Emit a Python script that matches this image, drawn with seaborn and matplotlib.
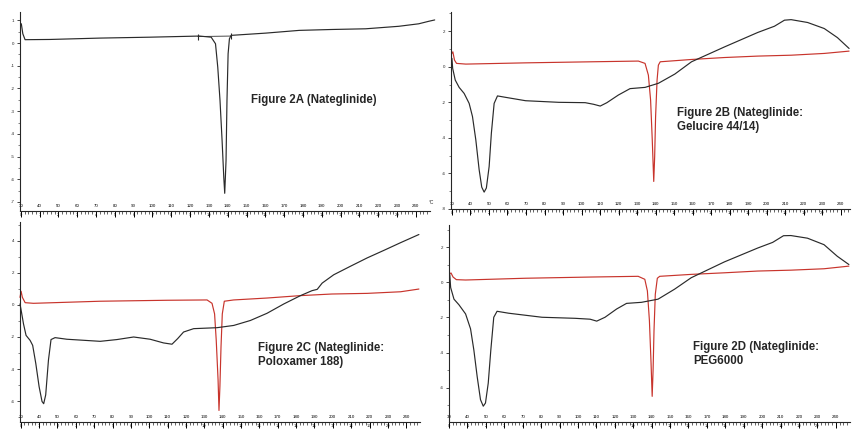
import numpy as np
import pandas as pd
import matplotlib
matplotlib.use("Agg")
import matplotlib.pyplot as plt
from matplotlib.ticker import MultipleLocator
import seaborn as sns

# ---------------- data (temperature °C, heat flow) ----------------
a_temp = [30, 30.3, 31.1, 32.3, 45.5, 72, 98.5, 125, 131.2, 133.5, 134.7, 135.9, 137, 137.9,
          138.4, 139.1, 139.6, 140.2, 140.9, 141.8, 160.3, 178, 195.6, 213.3, 230.9, 241.5, 246.8, 250]
a_flow = [0.78, 0.85, 0.41, 0.15, 0.16, 0.22, 0.26, 0.31, 0.26, -0.03, -1.06, -2.53, -4.29, -5.91,
          -6.62, -5.18, -2.53, -0.47, 0.19, 0.34, 0.44, 0.56, 0.60, 0.63, 0.74, 0.85, 0.96, 1.02]
a_base_temp = [124.1, 141.8]
a_base_flow = [0.29, 0.31]

b_red_temp = [30, 30.5, 31.4, 32.5, 37.5, 69.8, 105.6, 130.7, 134.3, 136.1, 137.3, 138.2, 139,
              139.5, 140, 140.8, 141.5, 142.5, 159.4, 177.3, 195.2, 213.2, 231.1, 244.5]
b_red_flow = [0.75, 0.84, 0.37, 0.19, 0.15, 0.22, 0.28, 0.32, 0.19, -0.47, -1.87, -4.11, -6.45,
              -5.05, -2.8, -0.75, 0.09, 0.28, 0.41, 0.52, 0.60, 0.65, 0.75, 0.88]
b_blk_temp = [30, 30.4, 31.8, 33.9, 36.6, 39.3, 41.1, 42.9, 44.7, 46.1, 47.4, 48.6, 50.1, 51.3,
              52.8, 54.6, 59, 69.8, 87.7, 102, 106.5, 110.1, 113.7, 119.9, 126.2, 134.3, 141.5,
              150.4, 159.4, 177.3, 195.2, 204.2, 209.6, 213.2, 222.1, 231.1, 238.2, 244.5]
b_blk_flow = [0.47, -0.09, -0.75, -1.16, -1.5, -2.06, -2.8, -4.11, -5.79, -6.77, -7.05, -6.82,
              -5.61, -3.74, -2.06, -1.64, -1.72, -1.91, -2.0, -2.02, -2.11, -2.21, -2.02, -1.59,
              -1.23, -1.16, -0.93, -0.41, 0.28, 1.12, 1.93, 2.28, 2.62, 2.65, 2.49, 2.15, 1.64, 1.03]

c_red_temp = [29.6, 30.2, 30.9, 32.4, 36.9, 73.3, 109.6, 131.5, 134.2, 135.6, 136.5, 137.5, 138,
              138.5, 139.1, 139.8, 140.9, 146, 164.2, 182.4, 199.5, 218.7, 236.9, 246.9]
c_red_flow = [0.47, 0.85, 0.47, 0.14, 0.10, 0.23, 0.29, 0.31, 0.10, -0.56, -2.21, -4.68, -6.58,
              -5.09, -2.62, -0.56, 0.23, 0.31, 0.43, 0.58, 0.68, 0.72, 0.82, 0.99]
c_blk_temp = [29.6, 30.4, 31.5, 32.9, 35.1, 36.5, 38.2, 40, 41.6, 42.5, 43.6, 45.1, 46.5, 48.7,
              55.1, 73.3, 82.4, 91.5, 100.5, 107.8, 112.4, 115.5, 118.7, 124.2, 136.9, 146,
              155.1, 164.2, 173.3, 182.4, 188.7, 191.5, 194.2, 200.5, 209.6, 218.7, 227.8, 236.9, 246.9]
c_blk_flow = [0.06, -0.45, -1.18, -1.9, -2.21, -2.52, -3.65, -5.09, -6.02, -6.16, -5.61, -3.44,
              -2.16, -2.04, -2.14, -2.27, -2.16, -2.0, -2.14, -2.37, -2.45, -2.1, -1.69, -1.48,
              -1.42, -1.28, -0.97, -0.52, 0.06, 0.58, 0.89, 0.97, 1.36, 1.88, 2.41, 2.93, 3.40, 3.88, 4.39]

d_red_temp = [30.4, 31.1, 32.2, 34, 39, 71.4, 107.5, 132.7, 136.3, 137.7, 138.8, 139.7, 140.3,
              140.8, 141.3, 142, 143.1, 144.4, 161.5, 179.5, 197.6, 215.6, 233.6, 247.1]
d_red_flow = [0.49, 0.53, 0.30, 0.15, 0.13, 0.23, 0.30, 0.34, 0.17, -0.49, -2.18, -4.62, -6.49,
              -4.99, -2.74, -0.68, 0.23, 0.34, 0.45, 0.54, 0.64, 0.69, 0.77, 0.92]
d_blk_temp = [30.4, 30.9, 32.7, 35.4, 39, 41.7, 43.5, 45.3, 47.1, 48.6, 49.8, 51.3, 52.7, 54.3,
              56.1, 62.4, 80.5, 98.5, 106.6, 110.2, 114.7, 121, 126.4, 134.5, 143.5, 152.5,
              161.5, 179.5, 197.6, 205.7, 211.6, 215.6, 224.6, 233.6, 240.8, 247.1]
d_blk_flow = [0.45, -0.3, -0.96, -1.28, -1.8, -2.65, -3.86, -5.37, -6.68, -7.05, -6.87, -5.74,
              -3.86, -1.99, -1.65, -1.76, -1.99, -2.05, -2.1, -2.21, -1.99, -1.52, -1.2, -1.14,
              -0.96, -0.39, 0.26, 1.16, 1.95, 2.27, 2.65, 2.66, 2.51, 2.14, 1.48, 1.01]

titles = ["Figure 2A (Nateglinide)",
          "Figure 2B (Nateglinide:\nGelucire 44/14)",
          "Figure 2C (Nateglinide:\nPoloxamer 188)",
          "Figure 2D (Nateglinide:\nPEG6000"]

# ---------------- figure ----------------
sns.set_style("ticks")
plt.rcParams['font.family'] = ['Liberation Sans', 'DejaVu Sans']

W, H = 852, 430
fig = plt.figure(figsize=(W / 100, H / 100), dpi=100)
fig.patch.set_facecolor("white")

def box(l, r, t, b):
    return [l / W, 1 - b / H, (r - l) / W, (b - t) / H]

BLACK = "#2a2a2a"
RED = "#c8342c"
TFS = 8.3

def style(ax, xlim, ylim, ymaj, ymin_):
    ax.set_xlim(*xlim)
    ax.set_ylim(*ylim)
    for s in ["top", "right"]:
        ax.spines[s].set_visible(False)
    ax.spines["left"].set_linewidth(0.8)
    ax.spines["bottom"].set_linewidth(0.8)
    ax.xaxis.set_major_locator(MultipleLocator(10))
    ax.xaxis.set_minor_locator(MultipleLocator(2))
    ax.yaxis.set_major_locator(MultipleLocator(ymaj))
    ax.yaxis.set_minor_locator(MultipleLocator(ymin_))
    ax.tick_params(axis="x", which="major", direction="out", length=4, width=0.7,
                   labelsize=3.2, pad=-9, colors="black")
    ax.tick_params(axis="x", which="minor", direction="out", length=2.5, width=0.5)
    ax.tick_params(axis="y", which="major", direction="out", length=2.5, width=0.6,
                   labelsize=3.2, pad=1.5)
    ax.tick_params(axis="y", which="minor", direction="out", length=1.5, width=0.4)
    ax.xaxis.set_major_formatter(plt.FuncFormatter(lambda v, p: f"{v:.0f}"))
    ax.yaxis.set_major_formatter(plt.FuncFormatter(lambda v, p: f"{v:.0f}"))
    ax.set_xlabel("")
    ax.set_ylabel("")
    ax.set_facecolor("none")
    sec = ax.secondary_xaxis("bottom", functions=(lambda t: (t - 30) / 10, lambda m: m * 10 + 30))
    sec.set_xticks(np.arange(0, int((xlim[1] - 30) / 10) + 1) if xlim[1] - 30 < 215 else np.arange(0, 21))
    sec.tick_params(length=0, labelsize=3.0, pad=1.2)
    sec.spines["bottom"].set_visible(False)
    sec.xaxis.set_major_formatter(plt.FuncFormatter(lambda v, p: f"{v:.0f}"))

def draw(ax, t, f, color):
    df = pd.DataFrame({"T": t, "HF": f})
    sns.lineplot(data=df, x="T", y="HF", sort=False, estimator=None, color=color,
                 lw=0.85, ax=ax, clip_on=False)

# Panel A
axA = fig.add_axes(box(20, 430, 12, 211))
draw(axA, a_temp, a_flow, BLACK)
axA.plot(a_base_temp, a_base_flow, color=BLACK, lw=0.6, marker="|", ms=4, mew=0.8)
style(axA, (29.6, 247.5), (-7.4, 1.37), 1, 0.5)
fig.text(251 / W, 1 - 100 / H, titles[0], fontsize=TFS,
         fontweight="bold", ha="left", va="center")
fig.text(431 / W, 1 - 202 / H, "°C", fontsize=3.5, ha="center", va="center")

# Panel B
axB = fig.add_axes(box(451, 850, 12, 209))
draw(axB, b_red_temp, b_red_flow, RED)
draw(axB, b_blk_temp, b_blk_flow, BLACK)
style(axB, (29.5, 245), (-8.0, 3.08), 2, 1)
fig.text(677 / W, 1 - 120 / H, titles[1], fontsize=TFS, fontweight="bold",
         ha="left", va="center", linespacing=1.15)

# Panel C
axC = fig.add_axes(box(20, 420, 222, 422))
draw(axC, c_red_temp, c_red_flow, RED)
draw(axC, c_blk_temp, c_blk_flow, BLACK)
style(axC, (29.6, 247.5), (-7.3, 5.17), 2, 1)
fig.text(258 / W, 1 - 355 / H, titles[2], fontsize=TFS, fontweight="bold",
         ha="left", va="center", linespacing=1.15)

# Panel D
axD = fig.add_axes(box(449, 850, 225, 422))
draw(axD, d_red_temp, d_red_flow, RED)
draw(axD, d_blk_temp, d_blk_flow, BLACK)
style(axD, (30, 247.7), (-7.95, 3.26), 2, 1)
fig.text(693 / W, 1 - 354 / H, titles[3], fontsize=TFS, fontweight="bold",
         ha="left", va="center", linespacing=1.15)

fig.savefig("out.png", dpi=100, facecolor="white")
